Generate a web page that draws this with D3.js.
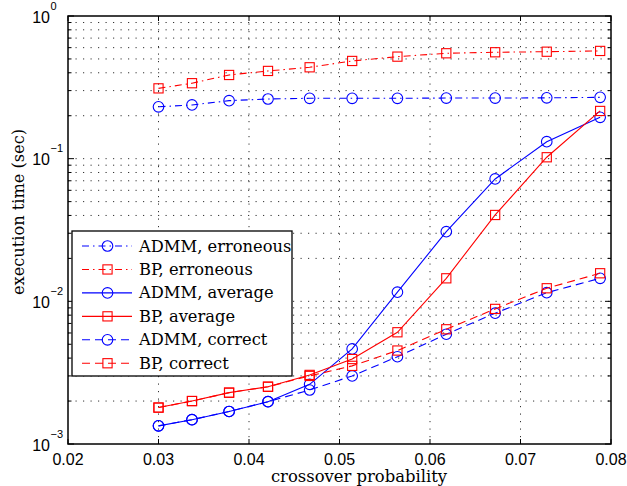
<!DOCTYPE html>
<html><head><meta charset="utf-8">
<script src="https://cdn.jsdelivr.net/npm/d3@7"></script>
<style>body{margin:0;background:#fff}svg{display:block}</style>
</head><body>
<svg id="c" width="627" height="486"></svg>
<script>
const xs = [0.0300,0.0337,0.0378,0.0421,0.0467,0.0514,0.0564,0.0618,0.0672,0.0729,0.0788];
const admmErr = [0.231,0.238,0.255,0.262,0.265,0.265,0.265,0.266,0.266,0.267,0.269];
const bpErr = [0.311,0.338,0.386,0.412,0.437,0.484,0.519,0.548,0.557,0.562,0.569];
const admmAvg = [0.00134,0.00148,0.00169,0.00198,0.00262,0.00464,0.0116,0.0308,0.0721,0.1315,0.195];
const bpAvg = [0.0018,0.0020,0.00229,0.00252,0.00305,0.00394,0.00607,0.0145,0.0403,0.1023,0.216];
const admmCor = [0.00134,0.00148,0.00169,0.00198,0.00239,0.0030,0.00409,0.00588,0.00826,0.0115,0.0145];
const bpCor = [0.0018,0.0020,0.00229,0.00252,0.0030,0.00353,0.00452,0.00637,0.00885,0.01235,0.01573];
const xTicks = [0.02,0.03,0.04,0.05,0.06,0.07,0.08];
const xTickLabels = ["0.02","0.03","0.04","0.05","0.06","0.07","0.08"];
const yExps = [-3,-2,-1,0];
const seriesNames = ["ADMM, erroneous","BP, erroneous","ADMM, average","BP, average","ADMM, correct","BP, correct"];

const L=68,R=611,T=16,B=444;
const SERIF="'DejaVu Serif', serif", SANS="'Liberation Sans', Arial, sans-serif";
const svg=d3.select("#c");
const x=d3.scaleLinear().domain([0.02,0.08]).range([L,R]);
const y=d3.scaleLog().domain([1e-3,1]).range([B,T]);

const blue="#0000ff", red="#ff0000";
const DASHDOT="7,4,1.5,4", DASH="8,5";
const series=[
 {name:seriesNames[0],v:admmErr,c:blue,d:DASHDOT,m:"o"},
 {name:seriesNames[1],v:bpErr,c:red,d:DASHDOT,m:"s"},
 {name:seriesNames[2],v:admmAvg,c:blue,d:null,m:"o"},
 {name:seriesNames[3],v:bpAvg,c:red,d:null,m:"s"},
 {name:seriesNames[4],v:admmCor,c:blue,d:DASH,m:"o"},
 {name:seriesNames[5],v:bpCor,c:red,d:DASH,m:"s"}
];

// grid
const g=svg.append("g");
const gridVals=[];
for(let e=-3;e<0;e++) for(let k=1;k<=9;k++){ if(!(e===-3&&k===1)) gridVals.push(k*Math.pow(10,e)); }
g.selectAll(".gy").data(gridVals).enter().append("line")
 .attr("x1",L).attr("x2",R).attr("y1",d=>y(d)).attr("y2",d=>y(d))
 .attr("stroke","#333").attr("stroke-width",1).attr("stroke-dasharray","1.2,6.3");
g.selectAll(".gx").data(xTicks.slice(1,-1)).enter().append("line")
 .attr("y1",T).attr("y2",B).attr("x1",d=>x(d)).attr("x2",d=>x(d))
 .attr("stroke","#333").attr("stroke-width",1).attr("stroke-dasharray","1.2,6.3");

// series
function marker(sel,m,c){
  if(m==="o") sel.append("circle").attr("r",5.3).attr("fill","none").attr("stroke",c).attr("stroke-width",1.1);
  else sel.append("rect").attr("x",-4.6).attr("y",-4.6).attr("width",9.2).attr("height",9.2).attr("fill","none").attr("stroke",c).attr("stroke-width",1.1);
}
const line=d3.line().x((d,i)=>x(xs[i])).y(d=>y(d));
series.forEach(s=>{
  const p=svg.append("path").datum(s.v).attr("d",line).attr("fill","none").attr("stroke",s.c).attr("stroke-width",1.1);
  if(s.d) p.attr("stroke-dasharray",s.d);
  s.v.forEach((v,i)=>{ const mg=svg.append("g").attr("transform",`translate(${x(xs[i])},${y(v)})`); marker(mg,s.m,s.c); });
});

// axes box
svg.append("rect").attr("x",L).attr("y",T).attr("width",R-L).attr("height",B-T).attr("fill","none").attr("stroke","#000").attr("stroke-width",1.5);

// x ticks
xTicks.forEach((t,i)=>{
  const px=x(t);
  svg.append("line").attr("x1",px).attr("x2",px).attr("y1",B).attr("y2",B-5).attr("stroke","#000");
  svg.append("line").attr("x1",px).attr("x2",px).attr("y1",T).attr("y2",T+5).attr("stroke","#000");
  svg.append("text").attr("x",px).attr("y",465).attr("text-anchor","middle")
    .attr("font-family",SANS).attr("font-size",16).text(xTickLabels[i]);
});
// y ticks
for(let e=-3;e<=0;e++){
  const py=y(Math.pow(10,e));
  svg.append("line").attr("x1",L).attr("x2",L+6).attr("y1",py).attr("y2",py).attr("stroke","#000");
  svg.append("line").attr("x1",R).attr("x2",R-6).attr("y1",py).attr("y2",py).attr("stroke","#000");
  if(e<0) for(let k=2;k<=9;k++){
    const py2=y(k*Math.pow(10,e));
    svg.append("line").attr("x1",L).attr("x2",L+3.5).attr("y1",py2).attr("y2",py2).attr("stroke","#000");
    svg.append("line").attr("x1",R).attr("x2",R-3.5).attr("y1",py2).attr("y2",py2).attr("stroke","#000");
  }
}
yExps.forEach(e=>{
  const py=y(Math.pow(10,e));
  svg.append("text").attr("x",50).attr("y",py+6.5).attr("text-anchor","end")
   .attr("font-family",SANS).attr("font-size",16).text("10");
  svg.append("text").attr("x",50.5).attr("y",py-6.5).attr("text-anchor","start")
   .attr("font-family",SANS).attr("font-size",11).text(e===0?"0":"\u2212"+(-e));
});

// axis labels
svg.append("text").attr("x",359).attr("y",482).attr("text-anchor","middle")
 .attr("font-family",SERIF).attr("font-size",16.4).text("crossover probability");
svg.append("text").attr("transform","translate(24,212) rotate(-90)").attr("text-anchor","middle")
 .attr("font-family",SERIF).attr("font-size",16.2).text("execution time (sec)");

// legend
const lg=svg.append("g");
lg.append("rect").attr("x",72).attr("y",231).attr("width",220).attr("height",145).attr("fill","#fff").attr("stroke","#000").attr("stroke-width",1.3);
series.forEach((s,i)=>{
  const ly=246+i*23.45;
  const l=lg.append("line").attr("x1",82).attr("x2",132).attr("y1",ly).attr("y2",ly).attr("stroke",s.c).attr("stroke-width",1.1);
  if(s.d) l.attr("stroke-dasharray",s.d);
  const mg=lg.append("g").attr("transform",`translate(107.5,${ly})`); marker(mg,s.m,s.c);
  lg.append("text").attr("x",139).attr("y",ly+5.5).attr("font-family",SERIF).attr("font-size",16.3).text(s.name);
});
</script>
</body></html>
